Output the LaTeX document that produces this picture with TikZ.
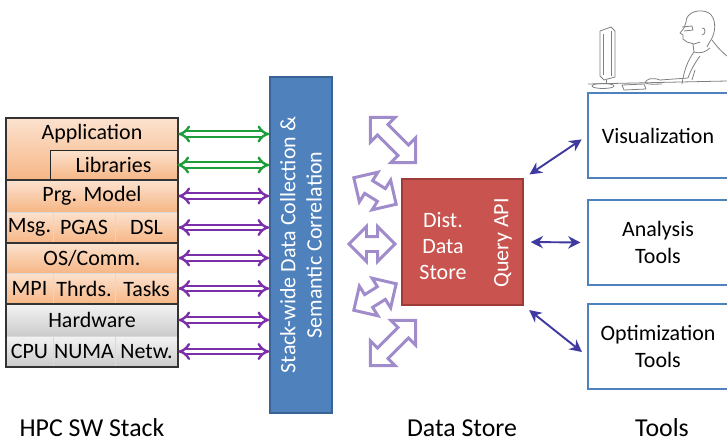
\documentclass[tikz,border=0pt]{standalone}
\usepackage{fontspec}
\setmainfont{Carlito}
\usetikzlibrary{arrows.meta,shapes.arrows}

\definecolor{peachtop}{HTML}{FCE2CF}
\definecolor{peachbot}{HTML}{F6B685}
\definecolor{graytop}{HTML}{F3F3F3}
\definecolor{graybot}{HTML}{CBCBCB}
\definecolor{stackgreen}{HTML}{1E9E3A}
\definecolor{stackpurple}{HTML}{7B2FA9}
\definecolor{barblue}{HTML}{4F81BD}
\definecolor{bardark}{HTML}{3A6294}
\definecolor{storered}{HTML}{C9534F}
\definecolor{storedark}{HTML}{9E3A37}
\definecolor{lilac}{HTML}{A08BCB}
\definecolor{indigo}{HTML}{3F3A9F}

\tikzset{
	layer/.style={rectangle, inner sep=0pt, minimum height=0.62cm,
			top color=peachtop, bottom color=peachbot, draw=black!15},
	hwlayer/.style={layer, top color=graytop, bottom color=graybot},
	group/.style={draw=black!80, line width=0.7pt},
	stackarrow/.style={double=white, double distance=1.8pt, line width=1.35pt,
			{Implies}-{Implies}},
	fatarrow/.style={double arrow, draw=lilac, fill=white, line width=1.7pt,
			inner sep=0.12cm, double arrow head extend=0.2cm},
	toolarrow/.style={draw=indigo, line width=1.1pt,
			{Stealth[length=7pt,width=7pt]}-{Stealth[length=7pt,width=7pt]},
			shorten <=0.14cm, shorten >=0.14cm},
	toolbox/.style={rectangle, draw=barblue, fill=white, line width=0.6pt,
			minimum width=2.8cm, minimum height=1.7cm, align=center},
	sketch/.style={draw=black!50, line width=0.45pt, line join=round},
	caption/.style={font=\fontsize{14.7}{17}\selectfont}
}

\begin{document}
\begin{tikzpicture}[x=0.02cm, y=-0.02cm, font=\fontsize{12.5}{15}\selectfont]
	\clip (0,0) rectangle (727,443);

	% HPC software stack
	\shade[top color=peachtop, bottom color=peachbot] (6,118) rectangle (178,180);
	\node[inner sep=0pt, minimum width=3.44cm, minimum height=0.6cm] (app) at (92,134) {Application};
	\node[layer, draw=black!85, minimum width=2.54cm, minimum height=0.6cm] (lib) at (113.5,165) {Libraries};

	\node[layer, minimum width=3.44cm, minimum height=0.64cm] (prg) at (92,196) {Prg. Model};
	\node[layer, minimum width=0.94cm] (msg) at (29.5,227.5) {Msg.};
	\node[layer, minimum width=1.24cm] (pgas) at (84,227.5) {PGAS};
	\node[layer, minimum width=1.26cm] (dsl) at (146.5,227.5) {DSL};

	\node[layer, minimum width=3.44cm, minimum height=0.6cm] (os) at (92,258) {OS/Comm.};
	\node[layer, minimum width=0.94cm] (mpi) at (29.5,288.5) {MPI};
	\node[layer, minimum width=1.24cm] (thrds) at (84,288.5) {Thrds.};
	\node[layer, minimum width=1.26cm] (tasks) at (146.5,288.5) {Tasks};

	\node[hwlayer, minimum width=3.44cm, minimum height=0.64cm] (hw) at (92,320) {Hardware};
	\node[hwlayer, minimum width=0.94cm] (cpu) at (29.5,351.5) {CPU};
	\node[hwlayer, minimum width=1.24cm] (numa) at (84,351.5) {NUMA};
	\node[hwlayer, minimum width=1.26cm] (netw) at (146.5,351.5) {Netw.};

	\draw[group] (6,118) rectangle (178,367);
	\foreach \y in {180,243,304}
		\draw[group] (6,\y) -- (178,\y);

	% collection bar
	\node[rectangle, fill=barblue, draw=bardark, line width=0.8pt,
		minimum width=1.24cm, minimum height=6.72cm] (bar) at (301,245) {};
	\node[rotate=90, text=white, align=center] (bartext) at (bar) {Stack-wide Data Collection \&\\Semantic Correlation};

	\foreach \row/\col in {app/stackgreen, lib/stackgreen, prg/stackpurple, dsl/stackpurple,
			os/stackpurple, tasks/stackpurple, hw/stackpurple, netw/stackpurple}
		\draw[stackarrow, draw=\col] (\row.east) -- (\row.east -| bar.west);

	% data store
	\node[rectangle, fill=storered, draw=storedark, line width=0.8pt,
		minimum width=2.42cm, minimum height=2.52cm] (ds) at (462.5,242) {};
	\node[text=white, align=center] (dstext) at (443,246) {Dist.\\Data\\Store};
	\node[text=white, rotate=90] (api) at (503,243) {Query API};

	\node[fatarrow, minimum height=1.28cm, rotate=-45] (f1) at (393,140) {};
	\node[fatarrow, minimum height=1.0cm, rotate=-32] (f2) at (375,191) {};
	\node[fatarrow, minimum height=0.92cm] (f3) at (372,244) {};
	\node[fatarrow, minimum height=1.0cm, rotate=32] (f4) at (375,297) {};
	\node[fatarrow, minimum height=1.28cm, rotate=45] (f5) at (393,343) {};

	% tools
	\node[toolbox] (vis) at (658,135.5) {Visualization};
	\node[toolbox] (ana) at (658,242.5) {Analysis\\Tools};
	\node[toolbox] (opt) at (658,346.5) {Optimization\\Tools};

	\draw[toolarrow] (ds.north east) -- (vis.west);
	\draw[toolarrow] (ds.east) -- (ana.west);
	\draw[toolarrow] (ds.south east) -- (opt.188);

	% user at the workstation
	\draw[sketch] (600,31) -- (611,27) -- (615,31) -- (615,77) -- (604,80) -- (600,76) -- cycle;
	\draw[sketch] (603,34) -- (603,75);
	\draw[sketch] (611,31) -- (611,76);
	\draw[sketch] (606,80) -- (606,84);
	\draw[sketch] (603,86) ellipse [x radius=11, y radius=2.5];
	\draw[sketch] (588,84) -- (727,81);
	\draw[sketch] (622,85) -- (644,84) -- (646,89) -- (624,90) -- cycle;
	\draw[sketch] (686,22) .. controls (686,12) and (700,8) .. (709,13)
		.. controls (716,18) and (716,30) .. (712,38) .. controls (710,42) and (708,44) .. (707,47);
	\draw[sketch] (686,22) -- (684,28) -- (680,33) -- (683,35) -- (683,39) -- (687,42) -- (694,44) -- (700,42);
	\draw[sketch] (682,27) -- (692,26) -- (693,30) -- (684,31);
	\draw[sketch] (702,28) .. controls (706,27) and (706,35) .. (702,35);
	\draw[sketch] (693,44) -- (694,52) .. controls (700,54) and (706,52) .. (710,48);
	\draw[sketch] (712,40) .. controls (718,48) and (722,52) .. (727,56);
	\draw[sketch] (694,52) .. controls (688,60) and (684,70) .. (682,84);
	\draw[sketch] (700,56) .. controls (694,64) and (690,72) .. (688,78) -- (660,80);
	\draw[sketch] (695,70) -- (692,80);
	\draw[sketch] (660,80) .. controls (652,77) and (646,79) .. (645,83) .. controls (650,85) and (656,84) .. (662,84);

	% column captions
	\node[caption] (capstack) at (92,428) {HPC SW Stack};
	\node[caption] (capstore) at (462,428) {Data Store};
	\node[caption] (captools) at (662,428) {Tools};
\end{tikzpicture}
\end{document}
